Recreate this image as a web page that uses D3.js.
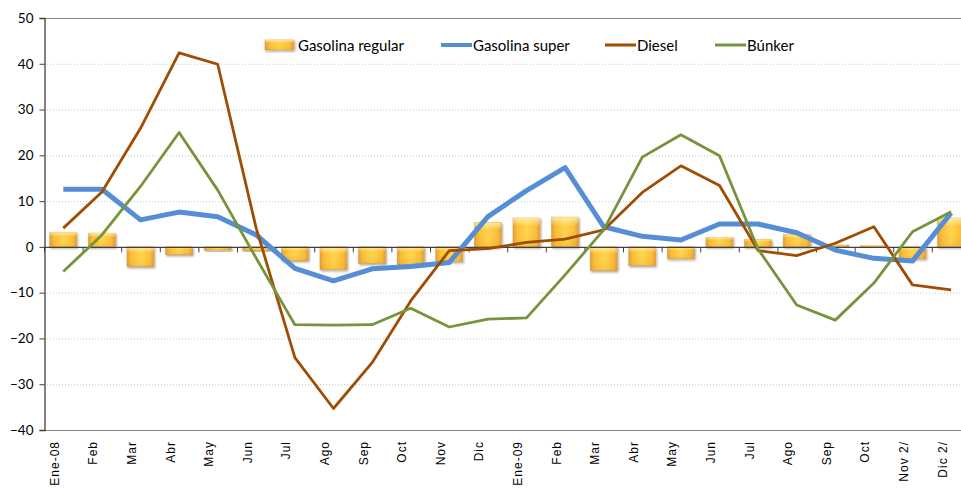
<!DOCTYPE html>
<html><head><meta charset="utf-8">
<script src="https://cdn.jsdelivr.net/npm/d3@7"></script>
<style>body{margin:0;background:#fff}svg{display:block}</style>
</head><body>
<svg id="c" width="961" height="489"></svg>
<script>
const categories = ["Ene-08","Feb","Mar","Abr","May","Jun","Jul","Ago","Sep","Oct","Nov","Dic","Ene-09","Feb","Mar","Abr","May","Jun","Jul","Ago","Sep","Oct","Nov 2/","Dic 2/"];
const gasolinaRegular = [3.2,3.0,-4.3,-1.7,-0.7,-0.8,-3.0,-5.0,-3.6,-3.9,-3.2,5.3,6.3,6.5,-5.2,-4.1,-2.6,2.1,1.6,2.7,0.4,0.3,-2.6,6.3];
const gasolinaSuper = [12.6,12.6,5.9,7.6,6.6,2.6,-4.7,-7.4,-4.8,-4.3,-3.4,6.6,12.3,17.3,4.4,2.3,1.5,5.0,5.0,3.1,-0.7,-2.5,-3.1,7.4];
const diesel = [4.1,12.0,25.9,42.4,39.9,4.0,-24.2,-35.3,-25.3,-11.8,-0.8,-0.4,1.0,1.7,3.7,11.9,17.7,13.4,-0.8,-1.9,0.8,4.4,-8.3,-9.4];
const bunker = [-5.4,2.6,13.2,25.0,12.4,-2.5,-17.0,-17.1,-17.0,-13.4,-17.5,-15.8,-15.5,-6.1,3.7,19.6,24.5,19.9,-0.5,-12.7,-16.0,-7.9,3.3,7.7];
const yTicks = [50,40,30,20,10,0,-10,-20,-30,-40];
const legendLabels = ["Gasolina regular","Gasolina super","Diesel","Búnker"];

const svg = d3.select("#c");
const mLeft = 44, mTop = 18, mBottom = 430, mRight = 961, band = 38.6;
const x = d3.scaleBand().domain(d3.range(categories.length)).range([mLeft, mLeft + band*categories.length]).paddingInner(0.3).paddingOuter(0.15);
const xb = d3.scaleBand().domain(d3.range(categories.length)).range([mLeft, mLeft + band*categories.length]);
const y = d3.scaleLinear().domain([-40,50]).range([mBottom, mTop]);

const defs = svg.append("defs");
const g1 = defs.append("linearGradient").attr("id","barH").attr("x1","0").attr("x2","1").attr("y1","0").attr("y2","0");
g1.append("stop").attr("offset","0").attr("stop-color","#e49a35");
g1.append("stop").attr("offset","0.15").attr("stop-color","#fbbd33");
g1.append("stop").attr("offset","0.5").attr("stop-color","#ffd44c");
g1.append("stop").attr("offset","0.85").attr("stop-color","#fbbd33");
g1.append("stop").attr("offset","1").attr("stop-color","#e49a35");
const g2 = defs.append("linearGradient").attr("id","barV").attr("x1","0").attr("x2","0").attr("y1","0").attr("y2","1");
g2.append("stop").attr("offset","0").attr("stop-color","#fff6c0").attr("stop-opacity",0.75);
g2.append("stop").attr("offset","0.3").attr("stop-color","#fff6c0").attr("stop-opacity",0);
g2.append("stop").attr("offset","1").attr("stop-color","#c07a20").attr("stop-opacity",0.15);
const f = defs.append("filter").attr("id","sh").attr("x","-20%").attr("y","-20%").attr("width","150%").attr("height","150%");
f.append("feDropShadow").attr("dx",1).attr("dy",1.5).attr("stdDeviation",1.2).attr("flood-color","#000").attr("flood-opacity",0.35);

// gridlines
svg.append("g").selectAll("line").data(yTicks.filter(d=>d!==0 && d!==50 && d!==-40)).join("line")
  .attr("x1",mLeft).attr("x2",mRight).attr("y1",d=>y(d)+0.5).attr("y2",d=>y(d)+0.5)
  .attr("stroke","#c8c8c8").attr("stroke-width",1).attr("stroke-dasharray","1,2");
svg.append("line").attr("x1",mLeft).attr("x2",mRight).attr("y1",y(50)+0.5).attr("y2",y(50)+0.5).attr("stroke","#868686");
svg.append("line").attr("x1",mLeft).attr("x2",mRight).attr("y1",y(-40)+0.5).attr("y2",y(-40)+0.5).attr("stroke","#868686");

// bars
const bars = svg.append("g");
bars.selectAll("rect.b").data(gasolinaRegular).join("rect").attr("class","b")
  .attr("x",(d,i)=>x(i)).attr("width",x.bandwidth())
  .attr("y",d=>y(Math.max(0,d))).attr("height",d=>Math.abs(y(d)-y(0)))
  .attr("fill","url(#barH)").attr("stroke","#d8a050").attr("stroke-width",0.6).attr("filter","url(#sh)");
bars.selectAll("rect.h").data(gasolinaRegular).join("rect").attr("class","h")
  .attr("x",(d,i)=>x(i)).attr("width",x.bandwidth())
  .attr("y",d=>y(Math.max(0,d))).attr("height",d=>Math.abs(y(d)-y(0)))
  .attr("fill","url(#barV)");

// y axis
const yAxis = d3.axisLeft(y).tickValues(yTicks).tickSize(5).tickPadding(4);
const ya = svg.append("g").attr("transform",`translate(${mLeft+0.5},0)`).call(yAxis);
ya.select(".domain").attr("stroke","#404040").attr("stroke-width",1.3);
ya.selectAll(".tick line").attr("stroke","#404040");
ya.selectAll("text").attr("font-family","Lato, 'Open Sans', sans-serif").attr("font-size","13.5px").attr("fill","#000").attr("dx","-2");

// x axis at zero
const xAxis = d3.axisBottom(xb).tickSize(0).tickFormat("");
const xa = svg.append("g").attr("transform",`translate(0,${y(0)+0.5})`).call(xAxis);
xa.select(".domain").remove();
xa.append("line").attr("x1",mLeft).attr("x2",mRight).attr("stroke","#404040").attr("stroke-width",1.2);
xa.selectAll("line.tk").data(d3.range(categories.length+1)).join("line").attr("class","tk")
  .attr("x1",i=>mLeft+0.5+band*i).attr("x2",i=>mLeft+0.5+band*i).attr("y1",0).attr("y2",5).attr("stroke","#404040");

// x labels
svg.append("g").selectAll("text").data(categories).join("text")
  .attr("transform",(d,i)=>`translate(${x(i)+x.bandwidth()/2-4.5},441) rotate(-90)`)
  .attr("text-anchor","end").attr("font-family","'Liberation Sans', Arial, sans-serif").attr("font-size","12px")
  .attr("letter-spacing","1px").attr("fill","#000").text(d=>d);

// lines
const line = d3.line().x((d,i)=>x(i)+x.bandwidth()/2).y(d=>y(d));
const series = [
  {data:gasolinaSuper,color:"#558ed5",w:5},
  {data:diesel,color:"#a04d04",w:2.8},
  {data:bunker,color:"#77933c",w:2.8}
];
svg.append("g").selectAll("path").data(series).join("path")
  .attr("d",s=>line(s.data)).attr("fill","none").attr("stroke",s=>s.color)
  .attr("stroke-width",s=>s.w).attr("stroke-linejoin","round");

// legend
const lg = svg.append("g").attr("font-family","Lato, 'Open Sans', sans-serif").attr("font-size","15px");
const lx = [265,441,605,715];
lg.append("rect").attr("x",lx[0]).attr("y",40).attr("width",29).attr("height",10).attr("fill","url(#barH)").attr("stroke","#d8a050").attr("stroke-width",0.6).attr("filter","url(#sh)");
lg.append("rect").attr("x",lx[0]).attr("y",40).attr("width",29).attr("height",10).attr("fill","url(#barV)");
series.forEach((s,k)=>{
  lg.append("line").attr("x1",lx[k+1]).attr("x2",lx[k+1]+31).attr("y1",45).attr("y2",45).attr("stroke",s.color).attr("stroke-width",s.w===5?4:3);
});
legendLabels.forEach((t,k)=>{
  lg.append("text").attr("x",lx[k]+(k===0?33:32)).attr("y",50.5).attr("fill","#000").text(t);
});
</script>
</body></html>
